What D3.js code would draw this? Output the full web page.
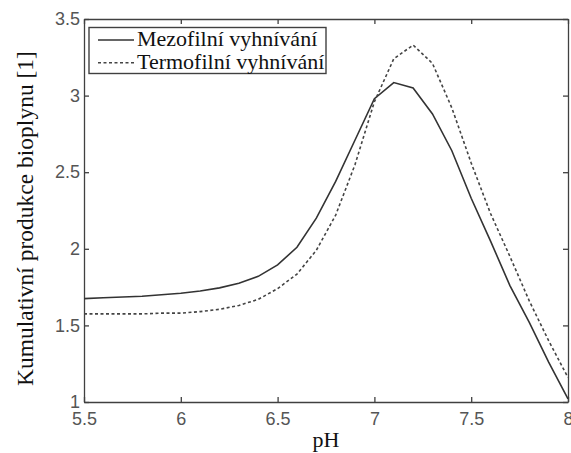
<!DOCTYPE html>
<html>
<head>
<meta charset="utf-8">
<script src="https://cdn.jsdelivr.net/npm/d3@7"></script>
<style>
  body { margin: 0; background: #fff; }
  .tick text { font-family: 'Liberation Sans', Arial, sans-serif; font-size: 18px; fill: #555; }
  .axis path, .axis line { stroke: #404040; stroke-width: 1.3; }
</style>
</head>
<body>
<div id="chart"></div>
<script>
const pH = [5.5, 5.6, 5.7, 5.8, 5.9, 6.0, 6.1, 6.2, 6.3, 6.4, 6.5, 6.6, 6.7,
            6.8, 6.9, 7.0, 7.1, 7.2, 7.3, 7.4, 7.5, 7.6, 7.7, 7.8, 7.9, 8.0]
const mezofilni = [1.675, 1.68, 1.685, 1.69, 1.70, 1.71, 1.725, 1.745, 1.775, 1.82, 1.895, 2.01, 2.20,
                   2.44, 2.71, 2.98, 3.085, 3.05, 2.88, 2.64, 2.33, 2.05, 1.76, 1.52, 1.26, 1.02]
const termofilni = [1.575, 1.575, 1.575, 1.575, 1.58, 1.58, 1.59, 1.605, 1.63, 1.67, 1.74, 1.835, 1.99,
                    2.22, 2.55, 2.96, 3.24, 3.33, 3.21, 2.92, 2.56, 2.23, 1.95, 1.66, 1.40, 1.16]
const xTicks = [5.5, 6, 6.5, 7, 7.5, 8]
const yTicks = [1, 1.5, 2, 2.5, 3, 3.5]
const seriesNames = ['Mezofilní vyhnívání', 'Termofilní vyhnívání']

const width = 571
const height = 453
const margin = { top: 19, right: 3, bottom: 51, left: 84 }
const serif = "'Liberation Serif', 'Times New Roman', serif"

const svg = d3.select('#chart')
  .append('svg')
  .attr('width', width)
  .attr('height', height)

svg.append('rect').attr('width', width).attr('height', height).attr('fill', '#fff')

const x = d3.scaleLinear().domain([5.5, 8]).range([margin.left, width - margin.right])
const y = d3.scaleLinear().domain([1, 3.5]).range([height - margin.bottom, margin.top])

// axes, ticks pointing inward, mirrored on top and right
svg.append('g').attr('class', 'axis')
  .attr('transform', `translate(0,${y(1)})`)
  .call(d3.axisBottom(x).tickValues(xTicks).tickSizeInner(-5).tickSizeOuter(0).tickPadding(10)
    .tickFormat(d3.format('')))
svg.append('g').attr('class', 'axis')
  .attr('transform', `translate(0,${y(3.5)})`)
  .call(d3.axisTop(x).tickValues(xTicks).tickSizeInner(-5).tickSizeOuter(0).tickFormat(''))
svg.append('g').attr('class', 'axis')
  .attr('transform', `translate(${x(5.5)},0)`)
  .call(d3.axisLeft(y).tickValues(yTicks).tickSizeInner(-5).tickSizeOuter(0).tickPadding(4)
    .tickFormat(d3.format('')))
svg.append('g').attr('class', 'axis')
  .attr('transform', `translate(${x(8)},0)`)
  .call(d3.axisRight(y).tickValues(yTicks).tickSizeInner(-5).tickSizeOuter(0).tickFormat(''))

// curves
const line = (vals) => d3.line()
  .x((d, i) => x(pH[i]))
  .y((d) => y(d))(vals)

svg.append('path')
  .attr('d', line(mezofilni))
  .attr('fill', 'none')
  .attr('stroke', '#333')
  .attr('stroke-width', 1.6)

svg.append('path')
  .attr('d', line(termofilni))
  .attr('fill', 'none')
  .attr('stroke', '#444')
  .attr('stroke-width', 1.6)
  .attr('stroke-dasharray', '3,2.5')

// axis titles
svg.append('text')
  .attr('x', (x(5.5) + x(8)) / 2)
  .attr('y', 447)
  .attr('text-anchor', 'middle')
  .attr('font-family', serif)
  .attr('font-size', 22)
  .attr('fill', '#111')
  .text('pH')

svg.append('text')
  .attr('transform', `translate(33,${(y(1) + y(3.5)) / 2 + 8}) rotate(-90)`)
  .attr('text-anchor', 'middle')
  .attr('font-family', serif)
  .attr('font-size', 23.5)
  .attr('fill', '#111')
  .text('Kumulativní produkce bioplynu [1]')

// legend
const legend = svg.append('g')
legend.append('rect')
  .attr('x', 89).attr('y', 27.5).attr('width', 237).attr('height', 46)
  .attr('fill', '#fff').attr('stroke', '#404040').attr('stroke-width', 1.4)

seriesNames.forEach((name, i) => {
  const ly = 40 + i * 22.7
  legend.append('line')
    .attr('x1', 98).attr('x2', 134).attr('y1', ly).attr('y2', ly)
    .attr('stroke', i === 0 ? '#333' : '#444')
    .attr('stroke-width', 1.6)
    .attr('stroke-dasharray', i === 0 ? null : '3,2.5')
  legend.append('text')
    .attr('x', 137).attr('y', ly + 6)
    .attr('font-family', serif)
    .attr('font-size', 22)
    .attr('fill', '#111')
    .text(name)
})
</script>
</body>
</html>
